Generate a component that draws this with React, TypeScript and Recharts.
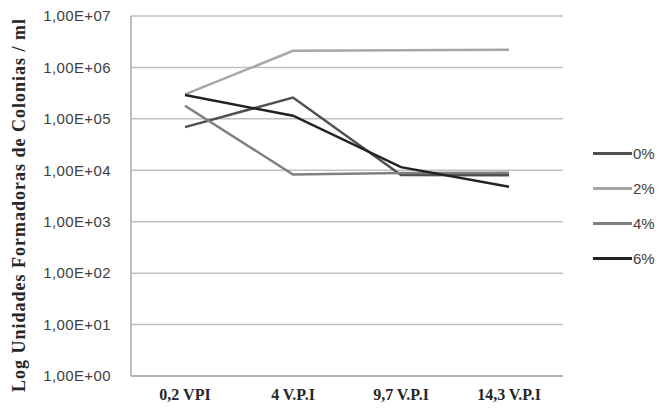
import React from 'react';
import { LineChart, Line, XAxis, YAxis, CartesianGrid } from 'recharts';

const categories = ['0,2 VPI', '4 V.P.I', '9,7 V.P.I', '14,3 V.P.I'];
const series0 = [69000, 260000, 8100, 8000];
const series2 = [300000, 2100000, 2150000, 2200000];
const series4 = [180000, 8300, 8900, 9000];
const series6 = [290000, 115000, 11500, 4800];
const yTicks = [1, 10, 100, 1000, 10000, 100000, 1000000, 10000000];
const yTickLabels = ['1,00E+00', '1,00E+01', '1,00E+02', '1,00E+03', '1,00E+04', '1,00E+05', '1,00E+06', '1,00E+07'];
const seriesNames = ['0%', '2%', '4%', '6%'];
const seriesColors = ['#505050', '#a6a6a6', '#7f7f7f', '#222222'];
const yAxisTitle = 'Log Unidades Formadoras de Colonias / ml';

const data = categories.map((c, i) => ({
  cat: c,
  s0: series0[i],
  s2: series2[i],
  s4: series4[i],
  s6: series6[i],
}));

const keys = ['s0', 's2', 's4', 's6'];

const LegendBox = () => (
  <div style={{ position: 'absolute', left: 593, top: 136 }}>
    {seriesNames.map((n, i) => (
      <div key={n} style={{ display: 'flex', alignItems: 'center', height: 35 }}>
        <div style={{ width: 39, height: 3, background: seriesColors[i] }} />
        <span style={{ fontFamily: 'Liberation Sans, sans-serif', fontSize: 15, color: '#404040', marginLeft: 1, lineHeight: '35px' }}>{n}</span>
      </div>
    ))}
  </div>
);

const YLabel = () => (
  <text
    x={0}
    y={0}
    transform="translate(25,205) rotate(-90)"
    textAnchor="middle"
    fontFamily="Liberation Serif, serif"
    fontWeight="bold"
    fontSize={18}
    letterSpacing={1}
    fill="#262626"
  >
    {yAxisTitle}
  </text>
);

export default function App() {
  return (
    <div style={{ position: 'absolute', left: 0, top: 0, width: 657, height: 409, background: '#fff' }}>
      <LineChart width={657} height={409} data={data} margin={{ top: 16, right: 94, bottom: 3, left: 51 }}>
        <CartesianGrid horizontal={true} vertical={false} stroke="#c0c0c0" strokeWidth={1.5} />
        <XAxis
          dataKey="cat"
          height={30}
          padding={{ left: 54, right: 54 }}
          axisLine={{ stroke: '#a8a8a8', strokeWidth: 1.5 }}
          tickLine={false}
          tickSize={0}
          tickMargin={13}
          tick={{ fontFamily: 'Liberation Serif, serif', fontWeight: 'bold', fontSize: 16, fill: '#262626' }}
          interval={0}
        />
        <YAxis
          scale="log"
          domain={[1, 10000000]}
          ticks={yTicks}
          width={80}
          axisLine={{ stroke: '#a8a8a8', strokeWidth: 1.5 }}
          tickLine={false}
          tickSize={0}
          tickMargin={20}
          tickFormatter={(v: number) => yTickLabels[yTicks.indexOf(v)] ?? String(v)}
          tick={{ fontFamily: 'Liberation Sans, sans-serif', fontSize: 15, fill: '#404040', letterSpacing: 0.4 }}
          allowDataOverflow
          label={<YLabel />}
        />
        {keys.map((k, i) => (
          <Line
            key={k}
            type="linear"
            dataKey={k}
            name={seriesNames[i]}
            stroke={seriesColors[i]}
            strokeWidth={2.5}
            dot={false}
            isAnimationActive={false}
          />
        ))}
      </LineChart>
      <LegendBox />
    </div>
  );
}
